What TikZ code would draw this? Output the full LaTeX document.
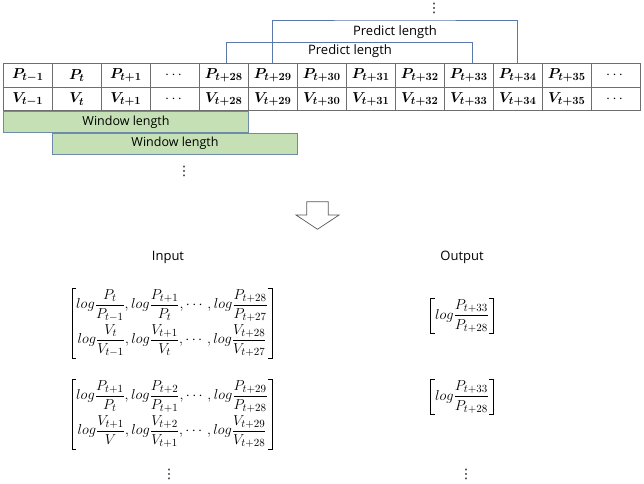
\documentclass[tikz,border=0pt]{standalone}
\usepackage[no-math]{fontspec}
\usepackage{amsmath}
\usepackage{bm}
\setmainfont{Open Sans}
\newfontfamily\dejavu{DejaVu Sans}
\definecolor{gridc}{RGB}{110,110,110}
\definecolor{predc}{RGB}{90,120,170}
\definecolor{winfill}{RGB}{197,224,180}
\definecolor{winline}{RGB}{110,140,170}
\definecolor{arrc}{RGB}{90,90,90}
\tikzset{
  cell/.style={draw=gridc,line width=0.8pt,minimum width=49pt,minimum height=23.5pt,inner sep=0pt,font=\fontsize{15}{17}\selectfont},
  winbox/.style={draw=winline,fill=winfill,line width=0.7pt,minimum width=245pt,minimum height=21pt,inner sep=0pt,font=\fontsize{12.5}{15}\selectfont},
  predline/.style={draw=predc,line width=0.8pt},
  lbl/.style={font=\fontsize{13}{15}\selectfont,inner sep=0pt},
  mat/.style={inner xsep=4pt,inner ysep=1pt,font=\fontsize{15}{18}\selectfont},
  brk/.style={draw=black,line width=0.8pt},
  vdot/.style={inner sep=0pt,font=\dejavu\fontsize{13}{15}\selectfont},
}
\newcommand{\brackets}[1]{%
  \draw[brk] ([xshift=4pt]#1.north west) -- (#1.north west) -- (#1.south west) -- ([xshift=4pt]#1.south west);
  \draw[brk] ([xshift=-4pt]#1.north east) -- (#1.north east) -- (#1.south east) -- ([xshift=-4pt]#1.south east);}
\begin{document}
\begin{tikzpicture}[x=1pt,y=-1pt]
\useasboundingbox (0,0) rectangle (644,483);
% table
\foreach \i/\s in {0/t-1,1/t,2/t+1,4/t+28,5/t+29,6/t+30,7/t+31,8/t+32,9/t+33,10/t+34,11/t+35}{
  \node[cell] (p\i) at (27.8+49*\i,75.25) {$\bm{P_{\s}}$};
  \node[cell] (v\i) at (27.8+49*\i,99) {$\bm{V_{\s}}$};
}
\foreach \i in {3,12}{
  \node[cell] (p\i) at (27.8+49*\i,75.25) {$\cdots$};
  \node[cell] (v\i) at (27.8+49*\i,99) {$\cdots$};
}
% windows
\node[winbox] (w1) at (126,122) {Window length};
\node[winbox] (w2) at (175,143.5) {Window length};
\node[vdot] (d1) at (184,171) {⋮};
% predict brackets
\coordinate (a1) at ([xshift=3pt]p4.north);
\coordinate (b1) at ([xshift=4pt]p9.north);
\draw[predline] (a1) |- (350,42.3) -| (b1);
\node[lbl] (pl1) at (350,51.5) {Predict length};
\coordinate (a2) at (p5.north);
\coordinate (b2) at (p10.north);
\draw[predline] (a2) |- (395,20) -| (b2);
\node[lbl] (pl2) at (395,32.5) {Predict length};
\node[vdot] (d0) at (434,8) {⋮};
% arrow
\draw[arrc,fill=white,line width=0.7pt] (306.7,201.7) -- (328.3,201.7) -- (328.3,215) -- (339,215) -- (317.5,229.3) -- (296,215) -- (306.7,215) -- cycle;
% labels
\node[lbl] (in) at (168,257) {Input};
\node[lbl] (out) at (462,257) {Output};
% matrices
\node[mat] (m1) at (172,323) {$\begin{matrix}
\displaystyle log\frac{P_t}{P_{t-1}},log\frac{P_{t+1}}{P_t},\cdots,log\frac{P_{t+28}}{P_{t+27}}\\[10pt]
\displaystyle log\frac{V_t}{V_{t-1}},log\frac{V_{t+1}}{V_t},\cdots,log\frac{V_{t+28}}{V_{t+27}}
\end{matrix}$};
\brackets{m1}
\node[mat] (m2) at (172,414) {$\begin{matrix}
\displaystyle log\frac{P_{t+1}}{P_t},log\frac{P_{t+2}}{P_{t+1}},\cdots,log\frac{P_{t+29}}{P_{t+28}}\\[10pt]
\displaystyle log\frac{V_{t+1}}{V},log\frac{V_{t+2}}{V_{t+1}},\cdots,log\frac{V_{t+29}}{V_{t+28}}
\end{matrix}$};
\brackets{m2}
\node[mat] (o1) at (462,316) {$\displaystyle log\frac{P_{t+33}}{P_{t+28}}$};
\brackets{o1}
\node[mat] (o2) at (462,397) {$\displaystyle log\frac{P_{t+33}}{P_{t+28}}$};
\brackets{o2}
\node[vdot] (d2) at (169,474) {⋮};
\node[vdot] (d3) at (466,474) {⋮};
\end{tikzpicture}
\end{document}
